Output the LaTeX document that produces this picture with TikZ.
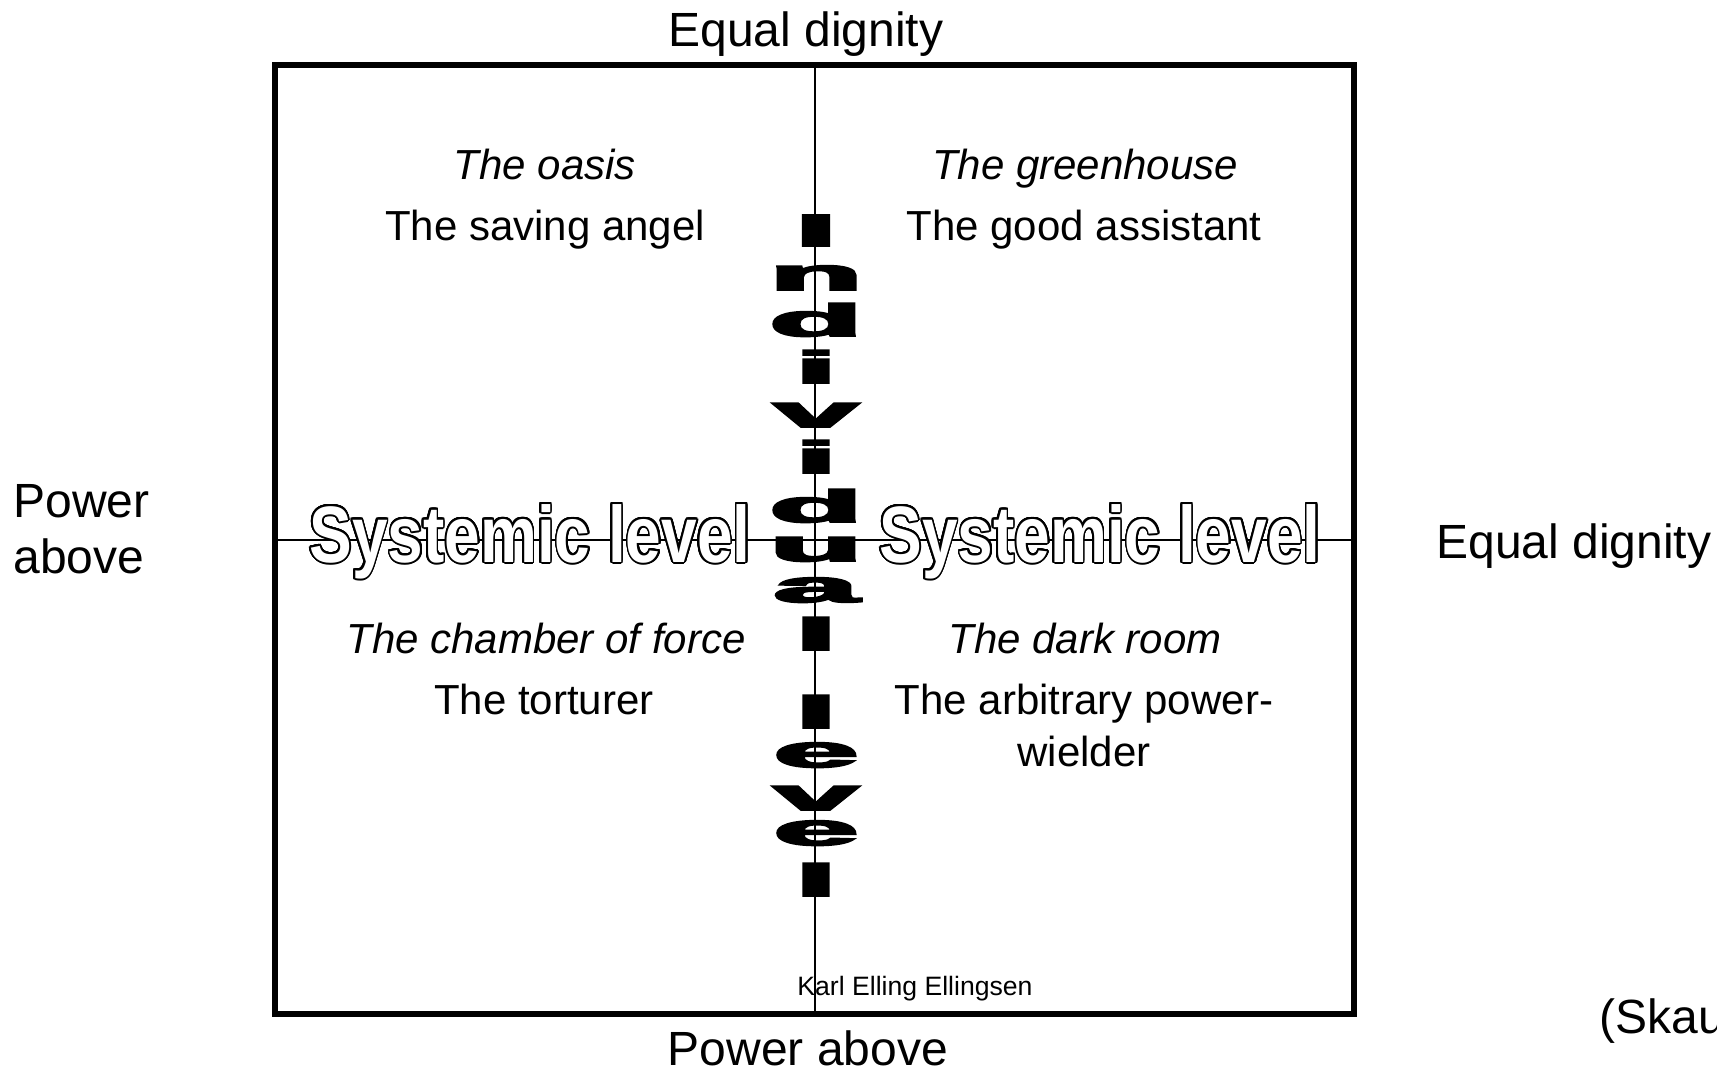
\documentclass[tikz,border=0pt]{standalone}
\usepackage{fontspec}
\setmainfont{Liberation Sans}
\newfontfamily\stackfont{Liberation Sans Bold}[FakeBold=4]
\usepackage{contour}
\contourlength{1pt}
\contournumber{32}
\usepackage{tikz}
\tikzset{
  frame/.style={draw, line width=3pt, inner sep=0pt, outer sep=0pt,
                minimum width=539.5pt, minimum height=474.5pt},
  axis/.style={line width=1pt},
  dimlabel/.style={font=\fontsize{24}{28}\selectfont, inner sep=0pt, anchor=base},
  roomlabel/.style={font=\fontsize{21}{26}\selectfont\itshape, inner sep=0pt, anchor=base},
  rolelabel/.style={font=\fontsize{21}{26}\selectfont, inner sep=0pt, anchor=base, align=center},
  syslabel/.style={font=\fontsize{40}{44}\selectfont\bfseries, inner sep=0pt, anchor=base},
  stackletter/.style={font=\fontsize{24}{24}\selectfont\stackfont, inner sep=0pt, anchor=base},
  credit/.style={font=\fontsize{13.3}{15}\selectfont, inner sep=0pt, anchor=base}
}

\begin{document}
\begin{tikzpicture}[x=0.5pt, y=-0.5pt]
\useasboundingbox (0,0) rectangle (1717,1070);
\node[frame] (frame) at (814.5,539.5) {};
\draw[axis] (frame.north) -- (frame.south);
\draw[axis] (frame.west) -- (frame.east);
\foreach \ch/\yb [count=\k] in {I/246, n/290, d/336, i/383, v/427, i/473, d/522, u/561,
                                a/602, l/650, l/728, e/767, v/810, e/845, l/896}
  \node[stackletter] (ind\k) at (816,\yb) {\scalebox{3.2}[0.94]{\ch}};
\node[syslabel] (sysleft) at (530,562) {\scalebox{0.8}[1]{\color{white}\contour{black}{Systemic level}}};
\node[syslabel] (sysright) at (1100,562) {\scalebox{0.8}[1]{\color{white}\contour{black}{Systemic level}}};
\node[roomlabel] (oasis) at (545,179) {The oasis};
\node[rolelabel] (angel) at (545,240) {The saving angel};
\node[roomlabel] (greenhouse) at (1085,179) {The greenhouse};
\node[rolelabel] (assistant) at (1084,240) {The good assistant};
\node[roomlabel] (chamber) at (546,653) {The chamber of force};
\node[rolelabel] (torturer) at (544,714) {The torturer};
\node[roomlabel] (darkroom) at (1085,653) {The dark room};
\node[rolelabel] (wielder) at (1084,766) {The arbitrary power-\\wielder};
\node[dimlabel] (topdig) at (806,47) {Equal dignity};
\node[dimlabel] (botpow) at (808,1065) {Power above};
\node[dimlabel, anchor=base west, align=left] (leftpow) at (13,573) {Power\\above};
\node[dimlabel, anchor=base west] (rightdig) at (1436,558) {Equal dignity};
\node[credit] (karl) at (915,995) {Karl Elling Ellingsen};
\node[dimlabel, anchor=base west] (skau) at (1599,1033) {(Skau};
\end{tikzpicture}
\end{document}
